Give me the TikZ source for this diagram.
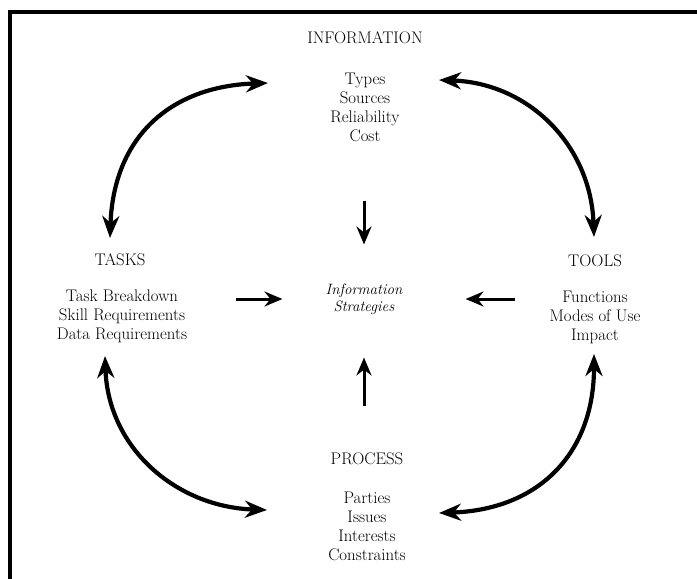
\documentclass[tikz,border=0pt]{standalone}
\usetikzlibrary{arrows.meta}

\begin{document}
\begin{tikzpicture}[x=1pt,y=-1pt,
    every node/.style={inner sep=0pt,font=\fontsize{16.8}{19}\selectfont},
    group/.style={align=center},
    strat/.style={align=center,font=\fontsize{15}{17}\selectfont\itshape},
    cycle/.style={line width=4.2pt,
      {Stealth[length=22pt,width=17pt,inset=7pt]}-{Stealth[length=22pt,width=17pt,inset=7pt]}},
    feed/.style={line width=3pt,-{Stealth[length=18pt,width=15pt,inset=6pt]}},
    frame/.style={line width=3.6pt}]
  \useasboundingbox (0,0) rectangle (697,579);
  \draw[frame] (10,640) |- (760,12);

  % the four fields and the centre
  \node (infotitle) at (365,38) {INFORMATION};
  \node[group] (infolist) at (365,107) {Types\\Sources\\Reliability\\Cost};
  \node (taskstitle) at (120,260) {TASKS};
  \node[group] (taskslist) at (122,316) {Task Breakdown\\Skill Requirements\\Data Requirements};
  \node (toolstitle) at (595,261) {TOOLS};
  \node[group] (toolslist) at (595,317) {Functions\\Modes of Use\\Impact};
  \node (proctitle) at (367,459) {PROCESS};
  \node[group] (proclist) at (367,526) {Parties\\Issues\\Interests\\Constraints};
  \node[strat] (strategies) at (364,299) {Information\\Strategies};

  % arcs between neighbouring fields
  \coordinate (infoL) at (268,83);
  \coordinate (infoR) at (439,80);
  \coordinate (tasksT) at (110,238);
  \coordinate (tasksB) at (105,356);
  \coordinate (toolsT) at (594,237);
  \coordinate (toolsB) at (594,354);
  \coordinate (procL) at (267,510);
  \coordinate (procR) at (439,513);
  \draw[cycle] (infoL) to[out=182,in=88,looseness=1.15] (tasksT);
  \draw[cycle] (infoR) to[out=-2,in=92,looseness=1.05] (toolsT);
  \draw[cycle] (tasksB) to[out=-88,in=178,looseness=1.05] (procL);
  \draw[cycle] (toolsB) to[out=-90,in=2,looseness=1.15] (procR);

  % everything feeds the strategies
  \draw[feed,shorten <=59pt,shorten >=39pt] (infolist.south -| strategies.north) -- (strategies.north);
  \draw[feed,shorten <=47pt,shorten >=43pt] (proctitle.north -| strategies.south) -- (strategies.south);
  \draw[feed,shorten <=49pt,shorten >=43pt] (taskslist.east |- strategies.west) -- (strategies.west);
  \draw[feed,shorten <=34pt,shorten >=63pt] (toolslist.west |- strategies.east) -- (strategies.east);
\end{tikzpicture}
\end{document}
